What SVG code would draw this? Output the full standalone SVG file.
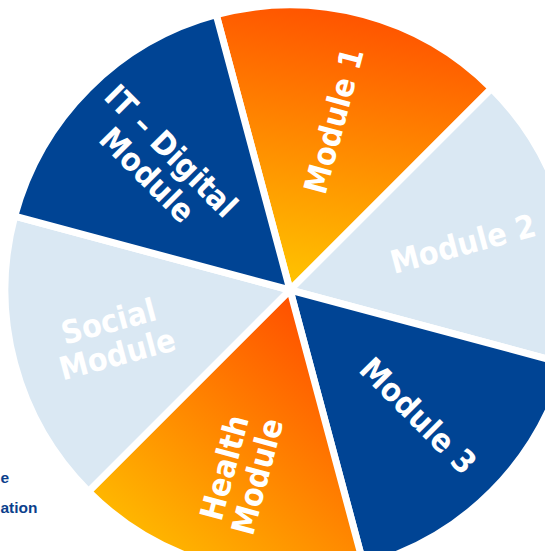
<svg xmlns="http://www.w3.org/2000/svg" width="545" height="551" viewBox="0 0 545 551">
<defs>
<linearGradient id="g1" gradientUnits="userSpaceOnUse" x1="350" y1="8" x2="300" y2="285">
<stop offset="0" stop-color="#ff5200"/>
<stop offset="1" stop-color="#ffc300"/>
</linearGradient>
<linearGradient id="g2" gradientUnits="userSpaceOnUse" x1="310" y1="300" x2="110" y2="540">
<stop offset="0" stop-color="#ff4d00"/>
<stop offset="1" stop-color="#ffbf00"/>
</linearGradient>
<style>
.sec{stroke:#fff;stroke-width:7;stroke-linejoin:round}
.blue{fill:#004494}
.light{fill:#dae8f3}
.lbl{font-family:"DejaVu Sans Condensed","DejaVu Sans",sans-serif;font-stretch:condensed;font-weight:bold;font-size:32px;fill:#fff;text-anchor:middle}
.side{font-family:"Liberation Sans",Arial,sans-serif;font-weight:bold;font-size:15.5px;fill:#0b3f8c}
</style>
</defs>
<rect width="545" height="551" fill="#fff"/>
<g id="module1">
<path class="sec" fill="url(#g1)" d="M290,290 L216.2,14.7 A285,285 0 0 1 491.5,88.5 Z"/>
<text class="lbl" transform="translate(334,121) rotate(-75)" y="11">Module 1</text>
</g>
<g id="module2">
<path class="sec light" d="M290,290 L491.5,88.5 A285,285 0 0 1 565.3,363.8 Z"/>
<text class="lbl" transform="translate(463,244) rotate(-15)" y="11">Module 2</text>
</g>
<g id="module3">
<path class="sec blue" d="M290,290 L565.3,363.8 A285,285 0 0 1 363.8,565.3 Z"/>
<text class="lbl" transform="translate(418,416) rotate(45)" y="11">Module 3</text>
</g>
<g id="health">
<path class="sec" fill="url(#g2)" d="M290,290 L363.8,565.3 A285,285 0 0 1 88.5,491.5 Z"/>
<text class="lbl" transform="translate(241,472) rotate(-75)"><tspan x="0" y="-6">Health</tspan><tspan x="0" y="28">Module</tspan></text>
</g>
<g id="social">
<path class="sec light" d="M290,290 L88.5,491.5 A285,285 0 0 1 14.7,216.2 Z"/>
<text class="lbl" transform="translate(113,338) rotate(-15)"><tspan x="0" y="-6">Social</tspan><tspan x="0" y="28">Module</tspan></text>
</g>
<g id="it-digital">
<path class="sec blue" d="M290,290 L14.7,216.2 A285,285 0 0 1 216.2,14.7 Z"/>
<text class="lbl" transform="translate(159,163) rotate(45)"><tspan x="0" y="-6">IT – Digital</tspan><tspan x="0" y="28">Module</tspan></text>
</g>
<g id="connectors"></g>
<g id="side-text">
<text class="side" x="0.5" y="483">e</text>
<text class="side" x="0.5" y="513">ation</text>
</g>
</svg>
